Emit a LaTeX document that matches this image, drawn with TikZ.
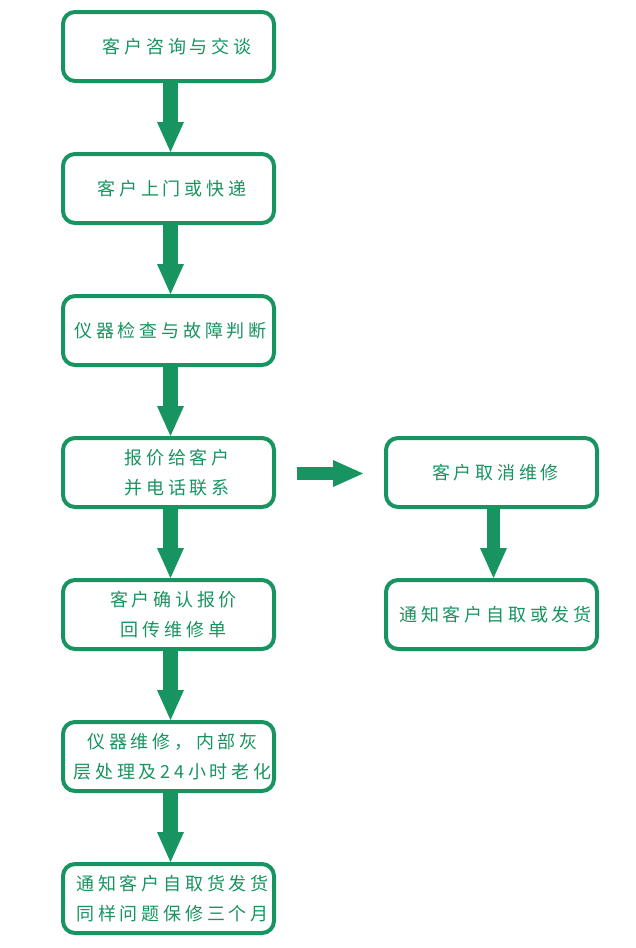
\documentclass[tikz,border=0pt]{standalone}
\usepackage{fontspec}
\usepackage{xcolor}
\usetikzlibrary{arrows.meta}
\newfontfamily\cjkfont[LetterSpace=21]{Noto Sans CJK SC}
\definecolor{flowgreen}{RGB}{23,148,96}
\newcommand{\lpad}[1]{\hspace*{#1pt}}

\begin{document}
\begin{tikzpicture}[x=1pt,y=1pt,
    stepbox/.style={draw=flowgreen, line width=4pt, rounded corners=12pt, fill=white,
        minimum width=211pt, minimum height=69pt, align=center, text=flowgreen,
        font=\cjkfont\fontsize{18}{29.5}\selectfont, inner sep=0pt},
    downarrow/.style={draw=flowgreen, line width=15pt,
        -{Triangle[width=27pt,length=30pt,line width=0pt]}},
    sidearrow/.style={draw=flowgreen, line width=13pt,
        -{Triangle[width=27pt,length=30pt,line width=0pt]}}]
        \useasboundingbox (0,0) rectangle (635,-948);
        % left column
        \node[stepbox] (ask) at (168.5,-46.5) {\lpad{17}客户咨询与交谈};
        \node[stepbox] (visit) at (168.5,-188.5) {\lpad{7}客户上门或快递};
        \node[stepbox] (check) at (168.5,-330.5) {\lpad{4}仪器检查与故障判断};
        \node[stepbox] (quote) at (168.5,-472.5) {\lpad{17}报价给客户\\\lpad{17}并电话联系};
        \node[stepbox] (confirm) at (168.5,-614.5) {\lpad{10}客户确认报价\\\lpad{10}回传维修单};
        \node[stepbox] (repair) at (168.5,-756.5) {\lpad{8}仪器维修，内部灰\\\lpad{8}层处理及24小时老化};
        \node[stepbox] (notify) at (168.5,-898.5) {\lpad{8}通知客户自取货发货\\\lpad{8}同样问题保修三个月};
        % right column
        \node[stepbox] (cancel) at (491.5,-472.5) {\lpad{8}客户取消维修};
        \node[stepbox] (pickup) at (491.5,-614.5) {\lpad{8}通知客户自取或发货};
        % arrows
        \draw[downarrow] ([xshift=2pt]ask.south) -- ([xshift=2pt]visit.north);
        \draw[downarrow] ([xshift=2pt]visit.south) -- ([xshift=2pt]check.north);
        \draw[downarrow] ([xshift=2pt]check.south) -- ([xshift=2pt]quote.north);
        \draw[downarrow] ([xshift=2pt]quote.south) -- ([xshift=2pt]confirm.north);
        \draw[downarrow] ([xshift=2pt]confirm.south) -- ([xshift=2pt]repair.north);
        \draw[downarrow] ([xshift=2pt]repair.south) -- ([xshift=2pt]notify.north);
        \draw[sidearrow] ([xshift=21pt,yshift=-1pt]quote.east) -- ([xshift=-21pt,yshift=-1pt]cancel.west);
        \draw[sidearrow] ([xshift=2pt]cancel.south) -- ([xshift=2pt]pickup.north);
\end{tikzpicture}
\end{document}
